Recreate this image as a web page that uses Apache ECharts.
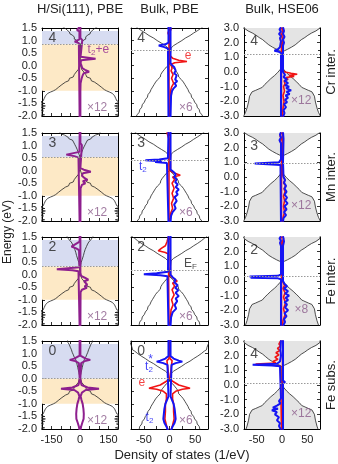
<!DOCTYPE html>
<html><head><meta charset="utf-8">
<script src="https://cdn.jsdelivr.net/npm/echarts@6/dist/echarts.min.js"></script>
<style>html,body{margin:0;padding:0;background:#fff}#c{width:338px;height:464px}</style>
</head><body><div id="c"></div>
<script>
// ---------------- labels ----------------
const colTitles = ['H/Si(111), PBE', 'Bulk, PBE', 'Bulk, HSE06'];
const rowNames = ['Cr inter.', 'Mn inter.', 'Fe inter.', 'Fe subs.'];
const momentLabels = [['4', '4', '4'], ['3', '3', '3'], ['2', '2', '2'], ['0', '0', '4']];
const scaleLabels = [['×12', '×6', '×12'], ['×12', '×6', '×12'], ['×12', '×6', '×8'], ['×12', '×6', '×12']];
const fermiLevels = [[0.85, 0.6, 1.2], [0.55, 0.42, 0.95], [0.33, 0.19, 0.3], [0.0, 0.0, 0.15]];
const slabBand = [1.38, -1.0];           // blue band top, orange band bottom
const xTickShown = [[-150, 0, 150], [-50, 0, 50], [-50, 0, 50]];
const xAxisName = 'Density of states (1/eV)';
const yAxisName = 'Energy (eV)';

// ---------------- host DOS ----------------
// H/Si(111) slab: conduction part per row [energy, dos], valence part shared
const slabCbCr = [[1.55,92],[1.5,80],[1.46,84],[1.42,68],[1.38,72],[1.34,56],[1.3,50],[1.26,52],[1.22,40],[1.18,42],[1.14,30],[1.1,28],[1.06,30],[1.02,19],[0.98,20],[0.94,11],[0.9,9],[0.86,3],[0.82,0]];
const slabCbMn = [[1.55,108],[1.5,98],[1.46,100],[1.42,82],[1.38,84],[1.34,64],[1.3,58],[1.26,56],[1.22,40],[1.18,38],[1.14,34],[1.1,26],[1.05,28],[1.0,20],[0.95,21],[0.9,14],[0.85,15],[0.8,10],[0.75,10],[0.7,5],[0.65,5],[0.6,2],[0.55,0]];
const slabCbFeInt = [[1.55,70],[1.5,62],[1.46,64],[1.42,54],[1.38,56],[1.34,48],[1.3,46],[1.26,47],[1.22,40],[1.18,42],[1.12,34],[1.06,35],[1.0,27],[0.94,28],[0.88,22],[0.82,23],[0.76,18],[0.7,16],[0.62,12],[0.55,10],[0.48,6],[0.4,4],[0.34,0]];
const slabCbFeSub = [[1.55,66],[1.5,62],[1.45,64],[1.4,55],[1.35,56],[1.3,50],[1.25,51],[1.2,44],[1.15,45],[1.1,40],[1.05,41],[1.0,36],[0.95,35],[0.9,30],[0.85,30],[0.8,24],[0.75,22],[0.7,19],[0.65,18],[0.6,16],[0.55,15],[0.5,13],[0.45,12],[0.4,10],[0.35,9],[0.3,7],[0.25,6],[0.2,4],[0.15,3],[0.1,1],[0.06,0]];
const slabVb = [[0.06,0],[0.03,3],[0.0,6],[-0.05,5],[-0.1,10],[-0.15,9],[-0.2,16],[-0.25,20],[-0.3,19],[-0.35,30],[-0.4,38],[-0.45,36],[-0.5,55],[-0.55,62],[-0.6,60],[-0.65,76],[-0.7,86],[-0.75,95],[-0.8,104],[-0.85,112],[-0.9,110],[-0.95,128],[-1.0,140],[-1.05,156],[-1.1,170],[-1.15,166],[-1.2,182],[-1.25,178],[-1.3,188],[-1.35,185],[-1.4,194],[-1.45,212],[-1.5,188],[-1.55,214],[-1.6,182],[-1.65,210],[-1.7,186],[-1.75,218],[-1.8,192],[-1.85,196],[-1.9,216],[-1.95,186],[-2.0,208],[-2.05,200]];
// bulk PBE: [distance from band edge, dos]; band edges per row
const pbeCb = [[0,0],[0.05,3],[0.1,7],[0.15,8],[0.2,15],[0.25,16],[0.3,22],[0.35,24],[0.4,30],[0.45,31],[0.5,38],[0.55,40],[0.6,46],[0.65,47],[0.7,54],[0.75,55],[0.8,61],[0.85,62],[0.9,67],[0.95,68],[1.0,72],[1.1,73],[1.3,77],[1.5,79]];
const pbeVb = [[0,0],[0.05,3],[0.1,6],[0.15,6],[0.2,10],[0.25,11],[0.3,14],[0.35,14],[0.4,17],[0.45,18],[0.5,18],[0.55,21],[0.6,23],[0.65,24],[0.7,27],[0.75,27],[0.8,30],[0.85,31],[0.9,33],[0.95,33],[1.0,36],[1.1,38],[1.2,42],[1.3,43],[1.4,47],[1.5,49],[1.6,53],[1.7,54],[1.8,58],[1.9,59],[2.0,63],[2.1,66],[2.2,68]];
const pbeCbEdge = [0.65, 0.6, 0.5, 0.15];
const pbeVbTop = [0.05, 0.0, -0.08, -0.1];
// bulk HSE06: [distance from band edge, dos]; band edges per row
const hseCb = [[0,0],[0.1,5],[0.2,11],[0.35,19],[0.5,26],[0.7,33],[0.85,38],[1.0,45],[1.15,51],[1.3,58],[1.45,67],[1.55,73],[1.65,75],[2.0,75]];
const hseVb = [[0,0],[0.2,4],[0.4,9],[0.6,15],[0.8,22],[1.0,28],[1.2,34],[1.4,39],[1.5,42],[1.6,52],[1.7,59],[1.8,62],[2.0,64],[2.4,66],[2.8,69],[3.1,72],[3.3,75],[3.7,75]];
const hseCbEdge = [1.35, 1.4, 1.25, 1.25];
const hseVbTop = [0.35, 0.35, 0.1, 0.0];

// ---------------- impurity PDOS [energy, value] ----------------
// H/Si(111), PBE (purple, x12)
const crSlabUp = [[1.55,2],[1.1,2],[1.02,12],[0.95,2],[0.36,3],[0.28,82],[0.22,6],[0.1,3],[0.0,8],[-0.1,12],[-0.18,30],[-0.24,48],[-0.3,20],[-0.38,14],[-0.45,24],[-0.52,8],[-0.7,3],[-1.0,2],[-2.05,2]];
const crSlabDn = [[1.55,-2],[1.48,-2],[1.42,-16],[1.37,-3],[1.05,-3],[0.96,-28],[0.9,-6],[0.85,-2],[-2.05,-2]];
const mnSlabUp = [[1.55,2],[1.1,2],[1.02,10],[0.95,2],[0.1,2],[0.04,20],[-0.04,57],[-0.1,15],[-0.2,10],[-0.3,25],[-0.36,40],[-0.42,15],[-0.5,28],[-0.56,10],[-0.7,3],[-2.05,2]];
const mnSlabDn = [[1.55,-2],[1.35,-2],[1.3,-10],[1.25,-2],[0.75,-3],[0.64,-72],[0.58,-30],[0.52,-8],[0.46,-2],[-2.05,-2]];
const feIntSlabUp = [[1.55,2],[0.2,2],[0.14,12],[0.08,2],[-0.05,6],[-0.12,25],[-0.2,44],[-0.26,22],[-0.32,30],[-0.4,38],[-0.46,24],[-0.52,36],[-0.6,10],[-0.7,3],[-2.05,2]];
const feIntSlabDn = [[1.55,-2],[1.32,-2],[1.12,-45],[1.05,-20],[0.98,-5],[0.3,-3],[0.22,-122],[0.18,-40],[0.14,-8],[0.1,-2],[-2.05,-2]];
const feSubSlab = [[1.55,2],[0.92,2],[0.8,30],[0.75,54],[0.7,25],[0.62,6],[0.55,2],[0.05,2],[-0.02,8],[-0.08,3],[-0.25,8],[-0.35,40],[-0.4,100],[-0.45,30],[-0.55,10],[-0.7,3],[-0.85,8],[-1.0,14],[-1.2,18],[-1.4,20],[-1.6,19],[-1.75,12],[-1.9,6],[-2.05,2]];
// Bulk, PBE (x6)
const crPbeBlueUp = [[1.55,2],[0.1,2],[0.02,5],[-0.05,9],[-0.12,6],[-0.2,12],[-0.3,9],[-0.38,14],[-0.45,17],[-0.55,11],[-0.62,15],[-0.7,10],[-0.8,13],[-0.9,8],[-1.0,5],[-1.2,3],[-2.05,2]];
const crPbeBlueDn = [[1.55,-2],[0.92,-2],[0.85,-8],[0.8,-21],[0.74,-10],[0.68,-3],[-2.05,-2]];
const crPbeRedUp = [[1.55,1],[1.45,3],[1.35,1],[0.4,1],[0.3,6],[0.22,18],[0.17,34],[0.12,10],[0.05,3],[-0.1,5],[-0.2,3],[-0.35,7],[-0.5,4],[-0.7,8],[-0.85,4],[-1.0,2],[-2.05,1]];
const crPbeRedDn = [[1.55,-1],[1.5,-4],[1.4,-1],[1.3,-3],[1.2,-1],[-2.05,-1]];
const mnPbeBlueUp = [[1.55,2],[0.05,2],[-0.05,8],[-0.15,12],[-0.25,9],[-0.35,14],[-0.45,11],[-0.55,16],[-0.65,12],[-0.75,18],[-0.85,13],[-0.95,16],[-1.05,10],[-1.2,14],[-1.35,9],[-1.5,12],[-1.65,6],[-1.8,3],[-2.05,2]];
const mnPbeBlueDn = [[1.55,-2],[0.5,-3],[0.45,-20],[0.42,-47],[0.38,-15],[0.35,-28],[0.31,-5],[0.27,-2],[-2.05,-2]];
const mnPbeRedUp = [[1.55,1],[0.0,2],[-0.08,8],[-0.18,21],[-0.25,6],[-0.35,10],[-0.5,5],[-0.7,9],[-0.9,5],[-1.1,8],[-1.3,4],[-1.5,6],[-1.7,2],[-2.05,1]];
const mnPbeRedDn = [[1.55,-1],[1.52,-5],[1.45,-8],[1.38,-3],[1.32,-6],[1.25,-1],[-2.05,-1]];
const feIntPbeBlueUp = [[1.55,2],[0.0,2],[-0.1,6],[-0.2,12],[-0.3,9],[-0.42,16],[-0.52,11],[-0.62,17],[-0.72,12],[-0.85,18],[-0.95,12],[-1.05,15],[-1.2,10],[-1.35,13],[-1.5,6],[-1.7,3],[-2.05,2]];
const feIntPbeBlueDn = [[1.55,-2],[0.12,-3],[0.06,-25],[0.02,-50],[-0.02,-18],[-0.06,-4],[-2.05,-2]];
const feIntPbeRedUp = [[1.55,1],[-0.05,2],[-0.15,8],[-0.26,15],[-0.33,6],[-0.45,10],[-0.6,5],[-0.8,9],[-1.0,4],[-1.2,7],[-1.4,3],[-2.05,1]];
const feIntPbeRedDn = [[1.55,-1],[1.45,-3],[1.3,-5],[1.15,-8],[1.05,-16],[0.95,-22],[0.88,-8],[0.82,-2],[-2.05,-1]];
const feSubPbeBlue = [[1.55,2],[0.9,2],[0.8,8],[0.72,18],[0.68,25],[0.62,12],[0.55,4],[0.48,2],[-0.7,2],[-0.85,5],[-1.0,8],[-1.2,10],[-1.4,11],[-1.6,12],[-1.75,10],[-1.9,6],[-2.05,3]];
const feSubPbeRed = [[1.55,1],[0.8,1],[0.72,5],[0.65,2],[0.0,1],[-0.1,6],[-0.25,18],[-0.38,40],[-0.42,25],[-0.5,12],[-0.6,6],[-0.8,6],[-1.0,8],[-1.3,8],[-1.6,9],[-1.85,6],[-2.05,3]];
// Bulk, HSE06
const crHseBlueUp = [[3.05,2],[2.8,4],[2.6,2],[2.4,5],[2.2,2],[2.0,4],[1.8,2],[1.2,2],[0.0,2],[-0.2,6],[-0.35,3],[-0.5,10],[-0.6,5],[-0.75,12],[-0.9,6],[-1.0,14],[-1.1,8],[-1.25,18],[-1.35,9],[-1.5,15],[-1.6,7],[-1.75,12],[-1.9,6],[-2.05,10],[-2.2,4],[-2.4,8],[-2.6,3],[-2.8,5],[-3.05,2]];
const crHseBlueDn = [[3.05,-2],[2.9,-5],[2.75,-2],[2.6,-6],[2.45,-2],[2.3,-4],[2.1,-2],[1.9,-3],[1.7,-4],[1.55,-8],[1.45,-15],[1.38,-6],[1.3,-2],[-3.05,-2]];
const crHseRedUp = [[3.05,1],[2.5,2],[2.0,1],[0.1,1],[0.0,6],[-0.08,18],[-0.15,30],[-0.22,14],[-0.3,24],[-0.38,8],[-0.5,12],[-0.6,4],[-0.8,6],[-1.0,3],[-1.3,5],[-1.6,2],[-2.0,4],[-2.5,2],[-3.05,1]];
const crHseRedDn = [[3.05,-1],[2.8,-3],[2.5,-1],[2.2,-3],[1.9,-1],[-3.05,-1]];
const mnHseBlueUp = [[3.05,2],[2.6,3],[1.0,2],[0.0,3],[-0.2,6],[-0.4,4],[-0.6,8],[-0.8,5],[-1.0,9],[-1.2,5],[-1.4,10],[-1.6,6],[-1.8,11],[-2.0,5],[-2.2,9],[-2.4,4],[-2.6,8],[-2.8,3],[-3.05,2]];
const mnHseBlueDn = [[3.05,-2],[2.9,-4],[2.7,-2],[2.5,-5],[2.3,-2],[1.2,-2],[1.0,-6],[0.92,-54],[0.86,-20],[0.82,-3],[-3.05,-2]];
const mnHseRedUp = [[3.05,1],[0.2,1],[0.0,3],[-0.2,6],[-0.4,3],[-0.6,7],[-0.8,4],[-1.0,6],[-1.3,3],[-1.6,5],[-2.0,3],[-2.4,5],[-2.8,2],[-3.05,1]];
const mnHseRedDn = [[3.05,-1],[2.8,-4],[2.6,-1],[2.4,-3],[2.2,-1],[-3.05,-1]];
const feIntHseBlueUp = [[3.05,2],[2.7,4],[2.4,2],[0.0,2],[-0.2,5],[-0.35,10],[-0.5,4],[-0.7,12],[-0.85,6],[-1.0,14],[-1.15,7],[-1.3,12],[-1.45,5],[-1.6,10],[-1.8,6],[-2.0,12],[-2.2,5],[-2.4,9],[-2.6,4],[-2.8,6],[-3.05,2]];
const feIntHseBlueDn = [[3.05,-2],[2.9,-5],[2.75,-2],[2.6,-4],[2.4,-2],[0.45,-2],[0.35,-8],[0.3,-64],[0.26,-40],[0.22,-62],[0.18,-8],[0.12,-2],[-3.05,-2]];
const feIntHseRedUp = [[3.05,1],[2.9,3],[2.7,1],[0.0,1],[-0.3,5],[-0.5,2],[-0.8,6],[-1.1,3],[-1.5,7],[-1.9,3],[-2.3,6],[-2.7,2],[-3.05,1]];
const feIntHseRedDn = [[3.05,-1],[2.8,-3],[2.6,-1],[-3.05,-1]];
const feSubHseBlueUp = [[3.05,2],[2.0,2],[0.3,2],[0.2,6],[0.1,2],[-3.05,2]];
const feSubHseBlueDn = [[3.05,-2],[2.4,-3],[2.0,-2],[1.6,-4],[1.45,-10],[1.38,-58],[1.33,-20],[1.28,-4],[1.2,-2],[-0.9,-2],[-1.1,-6],[-1.25,-3],[-1.4,-10],[-1.55,-18],[-1.62,-8],[-1.72,-20],[-1.85,-10],[-2.0,-14],[-2.2,-6],[-2.4,-10],[-2.6,-4],[-2.8,-6],[-3.05,-2]];
const feSubHseRedUp = [[3.05,1],[2.5,2],[2.0,1],[-3.05,1]];
const feSubHseRedDn = [[3.05,-2],[2.8,-6],[2.65,-3],[2.5,-9],[2.35,-4],[2.2,-12],[2.05,-6],[1.9,-14],[1.75,-8],[1.6,-18],[1.5,-12],[1.42,-52],[1.36,-20],[1.3,-3],[-3.05,-1]];

// ---------------- styling / layout ----------------
const PURPLE = '#8e1f8e', RED = '#f01414', BLUE = '#1414f5', MAUVE = '#8a5a8a';
const FONT = 'Liberation Sans';
const colLeft = [42, 131, 244], colWidth = [76, 77, 76];
const rowTop = [28, 133, 237, 341], rowHeight = 88;
const xRange = [[-200, 200, 50], [-75, 75, 25], [-75, 75, 25]];
const yRange = [[-2, 1.5, 0.5], [-2, 1.5, 0.5], [-3, 3, 1]];

const mirror = a => a.map(p => [p[0], -p[1]]);
const slabCbRows = [slabCbCr, slabCbMn, slabCbFeInt, slabCbFeSub];
const bandHost = (cb, vb, ec, ev) => cb.slice().reverse().map(p => [ec + p[0], p[1]]).concat(vb.map(p => [ev - p[0], p[1]]));
const hostFor = (r, c) => c === 0 ? slabCbRows[r].concat(slabVb)
  : c === 1 ? bandHost(pbeCb, pbeVb, pbeCbEdge[r], pbeVbTop[r])
  : bandHost(hseCb, hseVb, hseCbEdge[r], hseVbTop[r]);
const panelLines = [
  [[[crSlabUp, PURPLE], [crSlabDn, PURPLE]],
   [[crPbeRedUp, RED], [crPbeRedDn, RED], [crPbeBlueUp, BLUE], [crPbeBlueDn, BLUE]],
   [[crHseRedUp, RED], [crHseRedDn, RED], [crHseBlueUp, BLUE], [crHseBlueDn, BLUE]]],
  [[[mnSlabUp, PURPLE], [mnSlabDn, PURPLE]],
   [[mnPbeRedUp, RED], [mnPbeRedDn, RED], [mnPbeBlueUp, BLUE], [mnPbeBlueDn, BLUE]],
   [[mnHseRedUp, RED], [mnHseRedDn, RED], [mnHseBlueUp, BLUE], [mnHseBlueDn, BLUE]]],
  [[[feIntSlabUp, PURPLE], [feIntSlabDn, PURPLE]],
   [[feIntPbeRedUp, RED], [feIntPbeRedDn, RED], [feIntPbeBlueUp, BLUE], [feIntPbeBlueDn, BLUE]],
   [[feIntHseRedUp, RED], [feIntHseRedDn, RED], [feIntHseBlueUp, BLUE], [feIntHseBlueDn, BLUE]]],
  [[[feSubSlab, PURPLE], [mirror(feSubSlab), PURPLE]],
   [[feSubPbeRed, RED], [mirror(feSubPbeRed), RED], [feSubPbeBlue, BLUE], [mirror(feSubPbeBlue), BLUE]],
   [[feSubHseRedUp, RED], [feSubHseRedDn, RED], [feSubHseBlueUp, BLUE], [feSubHseBlueDn, BLUE]]]
];
// annotation text: [row, col, x, energy, text, color, align]
const annotations = [
  [0, 0, 40, 0.65, '{b|t}{s|2}{b|+e}', PURPLE, 'left'],
  [0, 1, 36, 0.38, '{b|e}', RED, 'center'],
  [1, 1, -52, 0.17, '{b|t}{s|2}', BLUE, 'center'],
  [2, 1, 41, 0.45, '{b|E}{s|F}', '#222', 'center'],
  [3, 1, -40, 0.49, '{b|t}{s|2}', BLUE, 'center'],
  [3, 1, -37, 0.75, '{b|*}', BLUE, 'center'],
  [3, 1, -54, -0.15, '{b|e}', RED, 'center'],
  [3, 1, -39, -1.55, '{b|t}{s|2}', BLUE, 'center']
];
const momentPos = [[-145, 1.1], [-55, 1.1], [-55, 2.1]];
const scalePos = [[90, -1.68], [32, -1.68], [38, -1.95]];

const grids = [], xAxes = [], yAxes = [], series = [];
for (let r = 0; r < 4; r++) {
  for (let c = 0; c < 3; c++) {
    const g = r * 3 + c;
    grids.push({ left: colLeft[c], top: rowTop[r], width: colWidth[c], height: rowHeight, show: false });
    const [xmin, xmax, xint] = xRange[c];
    const [ymin, ymax, yint] = yRange[c];
    const tick = { show: true, inside: true, length: 3, lineStyle: { color: '#000', width: 0.8 } };
    const minor = c === 2 ? { show: true, splitNumber: 2, length: 2, lineStyle: { color: '#000', width: 0.8 } } : { show: false };
    const xFmt = v => (xTickShown[c].indexOf(v) >= 0 ? String(v) : '');
    const line = { show: true, onZero: false, lineStyle: { color: '#000', width: 1 } };
    xAxes.push({ type: 'value', gridIndex: g, min: xmin, max: xmax, interval: xint, position: 'bottom', axisLine: line, axisTick: tick,
      axisLabel: { show: r === 3, formatter: xFmt, fontSize: 11, fontFamily: FONT, color: '#222', margin: 5, showMinLabel: true, showMaxLabel: true },
      splitLine: { show: false } });
    xAxes.push({ type: 'value', gridIndex: g, min: xmin, max: xmax, interval: xint, position: 'top', axisLine: line, axisTick: tick,
      axisLabel: { show: false }, splitLine: { show: false } });
    yAxes.push({ type: 'value', gridIndex: g, min: ymin, max: ymax, interval: yint, position: 'left', axisLine: line, axisTick: tick, minorTick: minor,
      axisLabel: { show: c !== 1, formatter: v => v.toFixed(1), fontSize: 11, fontFamily: FONT, color: '#222', margin: 5 },
      splitLine: { show: false } });
    yAxes.push({ type: 'value', gridIndex: g, min: ymin, max: ymax, interval: yint, position: 'right', axisLine: line, axisTick: tick, minorTick: minor,
      axisLabel: { show: false }, splitLine: { show: false } });
    const xi = 2 * g, yi = 2 * g;
    const ef = fermiLevels[r][c];
    const bg = { type: 'line', xAxisIndex: xi, yAxisIndex: yi, data: [], symbol: 'none', z: 0, silent: true, animation: false,
      markLine: { silent: true, symbol: 'none', label: { show: false }, animation: false,
        lineStyle: { color: '#999', type: [1.5, 1.5], width: 1 }, data: [{ yAxis: ef }] } };
    if (c === 0) {
      bg.markArea = { silent: true, animation: false, data: [
        [{ yAxis: ef, itemStyle: { color: '#d7dcf1' } }, { yAxis: slabBand[0] }],
        [{ yAxis: slabBand[1], itemStyle: { color: '#fde9c6' } }, { yAxis: ef }]
      ] };
    }
    series.push(bg);
    const host = hostFor(r, c);
    if (c === 2) {
      series.push({ type: 'custom', xAxisIndex: xi, yAxisIndex: yi, data: [[0, 0]], z: 1, silent: true, animation: false, clip: true,
        renderItem: (params, api) => {
          const pts = host.map(p => api.coord([p[1], p[0]])).concat(host.slice().reverse().map(p => api.coord([-p[1], p[0]])));
          return { type: 'polygon', shape: { points: pts }, style: { fill: '#e4e4e4', stroke: null } };
        } });
    }
    [1, -1].forEach(s => series.push({ type: 'line', xAxisIndex: xi, yAxisIndex: yi, symbol: 'none', z: 2, silent: true, animation: false,
      data: host.map(p => [s * p[1], p[0]]), lineStyle: { color: '#222', width: 0.8 } }));
    panelLines[r][c].forEach(([arr, col]) => series.push({ type: 'line', xAxisIndex: xi, yAxisIndex: yi, symbol: 'none', z: 3, silent: true, animation: false,
      data: arr.map(p => [p[1], p[0]]), lineStyle: { color: col, width: col === PURPLE ? 2 : (col === BLUE ? 2 : 1.6) } }));
    const txt = [
      { value: momentPos[c], label: { formatter: momentLabels[r][c], fontSize: 14, color: '#222' } },
      { value: scalePos[c], label: { formatter: scaleLabels[r][c], fontSize: 12, color: MAUVE } }
    ];
    annotations.filter(a => a[0] === r && a[1] === c).forEach(a => txt.push({ value: [a[2], a[3]],
      label: { formatter: a[4], color: a[5], align: a[6],
        rich: { b: { fontSize: 12, color: a[5], fontFamily: FONT }, s: { fontSize: 8, color: a[5], fontFamily: FONT, padding: [7, 0, 0, 0] } } } }));
    series.push({ type: 'scatter', xAxisIndex: xi, yAxisIndex: yi, symbolSize: 0, z: 5, silent: true, animation: false,
      label: { show: true, position: 'inside', fontFamily: FONT }, data: txt });
  }
}

const graphic = [];
const txtStyle = (t, size) => ({ text: t, fill: '#222', font: size + 'px ' + FONT, textAlign: 'center', textVerticalAlign: 'middle', align: 'center', verticalAlign: 'middle' });
colTitles.forEach((t, c) => graphic.push({ type: 'text', x: colLeft[c] + colWidth[c] / 2, y: 9, style: txtStyle(t, 13) }));
rowNames.forEach((t, r) => graphic.push({ type: 'text', x: 331, y: rowTop[r] + rowHeight / 2, rotation: Math.PI / 2, style: txtStyle(t, 13) }));
graphic.push({ type: 'text', x: 8, y: 232, rotation: Math.PI / 2, style: txtStyle(yAxisName, 12) });
graphic.push({ type: 'text', x: 182, y: 455, style: txtStyle(xAxisName, 13) });

const chart = echarts.init(document.getElementById('c'), null, { renderer: 'canvas' });
chart.setOption({ animation: false, grid: grids, xAxis: xAxes, yAxis: yAxes, series, graphic });
</script></body></html>
